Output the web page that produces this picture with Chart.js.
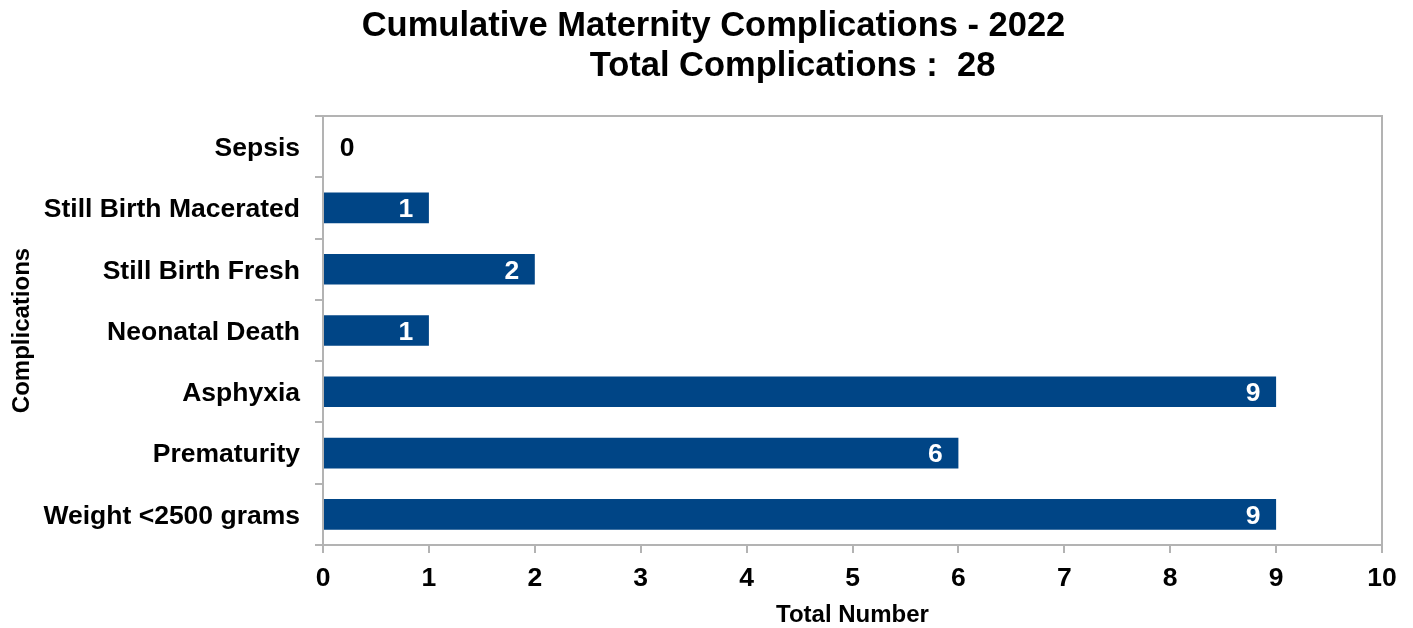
<!DOCTYPE html>
<html>
<head>
<meta charset="utf-8">
<title>Cumulative Maternity Complications - 2022</title>
<script src="https://cdn.jsdelivr.net/npm/chart.js@4"></script>
<style>
  html, body { margin: 0; padding: 0; background: #fff; }
</style>
</head>
<body>
<canvas id="chart" width="1413" height="628"></canvas>
<script>
(function () {
  // chart data
  const categories = [
    "Sepsis",
    "Still Birth Macerated",
    "Still Birth Fresh",
    "Neonatal Death",
    "Asphyxia",
    "Prematurity",
    "Weight <2500 grams",
  ];
  const values = [0, 1, 2, 1, 9, 6, 9];
  const xMin = 0;
  const xMax = 10;
  const titleLines = [
    "Cumulative Maternity Complications - 2022",
    "Total Complications :  28",
  ];
  const xTitle = "Total Number";
  const yTitle = "Complications";

  const FONT = "Arial, 'Liberation Sans', sans-serif";
  const BAR = "#004586";
  const FRAME = "#b3b3b3";

  // two title lines, second one shifted right like the original
  const titlePlugin = {
    id: "titleLines",
    afterDraw(chart) {
      const c = chart.ctx;
      c.save();
      c.fillStyle = "#000";
      c.font = "bold 34.5px " + FONT;
      c.textAlign = "center";
      c.textBaseline = "middle";
      const mid = chart.width / 2;
      c.fillText(titleLines[0], mid + 7, 26);
      c.fillText(titleLines[1], mid + 86, 66);
      c.restore();
    },
  };

  // gray frame round the plot area
  const framePlugin = {
    id: "frame",
    beforeDatasetsDraw(chart) {
      const a = chart.chartArea;
      const c = chart.ctx;
      c.save();
      c.strokeStyle = FRAME;
      c.lineWidth = 2;
      c.strokeRect(a.left, a.top, a.right - a.left, a.bottom - a.top);
      c.restore();
    },
  };

  // value labels: inside end in white, zero outside in black
  const labelPlugin = {
    id: "barLabels",
    afterDatasetsDraw(chart) {
      const c = chart.ctx;
      const meta = chart.getDatasetMeta(0);
      c.save();
      c.font = "bold 26.5px " + FONT;
      c.textAlign = "center";
      c.textBaseline = "middle";
      meta.data.forEach((bar, i) => {
        const v = values[i];
        if (v > 0) {
          c.fillStyle = "#fff";
          c.fillText(String(v), bar.x - 23, bar.y + 2);
        } else {
          c.fillStyle = "#000";
          c.fillText(String(v), bar.base + 24, bar.y + 2);
        }
      });
      c.restore();
    },
  };

  const ctx = document.getElementById("chart").getContext("2d");
  new Chart(ctx, {
    type: "bar",
    data: {
      labels: categories,
      datasets: [
        {
          data: values,
          backgroundColor: BAR,
          borderWidth: 0,
          categoryPercentage: 0.5,
          barPercentage: 1,
        },
      ],
    },
    options: {
      indexAxis: "y",
      responsive: false,
      animation: false,
      layout: { padding: { top: 116, right: 31, bottom: 0, left: 0 } },
      plugins: {
        legend: { display: false },
        title: { display: false },
        tooltip: { enabled: false },
      },
      scales: {
        x: {
          min: xMin,
          max: xMax,
          ticks: {
            stepSize: 1,
            color: "#000",
            padding: 10,
            font: { family: FONT, size: 26.5, weight: "bold" },
          },
          grid: {
            drawOnChartArea: false,
            drawTicks: true,
            tickLength: 8,
            color: FRAME,
            lineWidth: 2,
          },
          border: { color: FRAME, width: 2 },
          title: {
            display: true,
            text: xTitle,
            color: "#000",
            font: { family: FONT, size: 24, weight: "bold" },
            padding: { top: 4, bottom: -2 },
          },
          afterFit(scale) {
            scale.height = 83;
          },
        },
        y: {
          ticks: {
            color: "#000",
            padding: 15,
            labelOffset: 2,
            font: { family: FONT, size: 26.5, weight: "bold" },
          },
          grid: {
            offset: true,
            drawOnChartArea: false,
            drawTicks: true,
            tickLength: 8,
            color: FRAME,
            lineWidth: 2,
          },
          border: { color: FRAME, width: 2 },
          title: {
            display: true,
            text: yTitle,
            color: "#000",
            font: { family: FONT, size: 24, weight: "bold" },
            padding: { top: 8, bottom: 4 },
          },
          afterFit(scale) {
            scale.width = 323;
          },
        },
      },
    },
    plugins: [framePlugin, labelPlugin, titlePlugin],
  });
})();
</script>
</body>
</html>
